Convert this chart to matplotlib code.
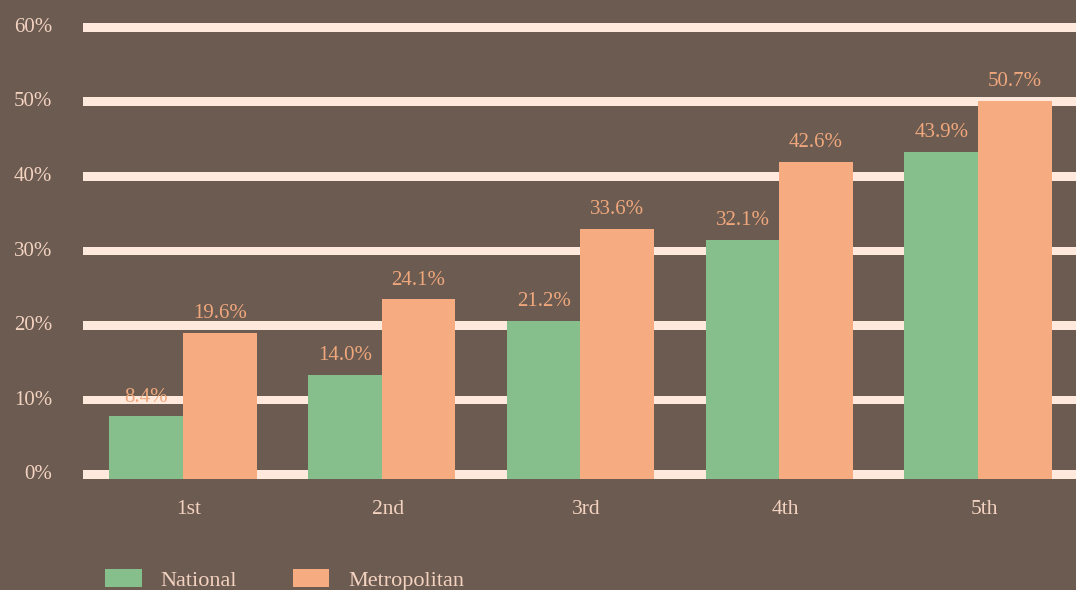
import matplotlib
matplotlib.use("Agg")
import matplotlib.pyplot as plt
import numpy as np
from matplotlib.transforms import ScaledTranslation

quintiles = ["1st", "2nd", "3rd", "4th", "5th"]
national = [8.4, 14.0, 21.2, 32.1, 43.9]
metropolitan = [19.6, 24.1, 33.6, 42.6, 50.7]
series_names = ["National", "Metropolitan"]
y_ticks = [0, 10, 20, 30, 40, 50, 60]

BG = "#6B5B51"
GRID = "#FFE8DC"
GREEN = "#86BE8C"
ORANGE = "#F6AC80"
LABEL = "#F0A77C"
TEXT = "#F3D2C0"

plt.rcParams["font.family"] = ["Liberation Serif", "DejaVu Serif"]

fig = plt.figure(figsize=(10.76, 5.90), dpi=100, facecolor=BG)
ax = fig.add_axes([83 / 1076, 111 / 590, 993 / 1076, 462 / 590], facecolor=BG)

ax.set_xlim(-0.503, 4.493)
ax.set_ylim(0, 62)

# thick grid bands sit just above each tick value
for v in y_ticks:
    ax.axhspan(v, v + 1.2, color=GRID, zorder=0, linewidth=0)

x = np.arange(len(quintiles))
w = 0.37
b1 = ax.bar(x - w / 2, national, width=w, color=GREEN, zorder=2, label=series_names[0])
b2 = ax.bar(x + w / 2, metropolitan, width=w, color=ORANGE, zorder=2, label=series_names[1])

for bars, vals in ((b1, national), (b2, metropolitan)):
    for rect, v in zip(bars, vals):
        ax.annotate(f"{v:.1f}%", (rect.get_x() + rect.get_width() / 2, v),
                    xytext=(0, 7), textcoords="offset points",
                    ha="center", va="bottom", fontsize=15, color=LABEL, zorder=3)

ax.set_xticks(x + 0.03, quintiles)
ax.set_yticks(y_ticks, [f"{v}%" for v in y_ticks])
ax.tick_params(axis="x", length=0, pad=15, labelsize=15.5, labelcolor=TEXT)
ax.tick_params(axis="y", length=0, pad=22, labelsize=15, labelcolor=TEXT)
for lab in ax.get_yticklabels():
    lab.set_transform(lab.get_transform() + ScaledTranslation(0, 5 / 72, fig.dpi_scale_trans))
for s in ax.spines.values():
    s.set_visible(False)

leg = fig.legend(handles=[b1, b2], labels=series_names, loc="center left",
                 bbox_to_anchor=(105 / 1076, 10 / 590), ncol=2, frameon=False,
                 fontsize=16, handlelength=1.65, handleheight=0.85,
                 handletextpad=0.85, columnspacing=2.5, borderpad=0, borderaxespad=0)
for t in leg.get_texts():
    t.set_color(TEXT)

fig.savefig("out.png", dpi=100, facecolor=BG)
